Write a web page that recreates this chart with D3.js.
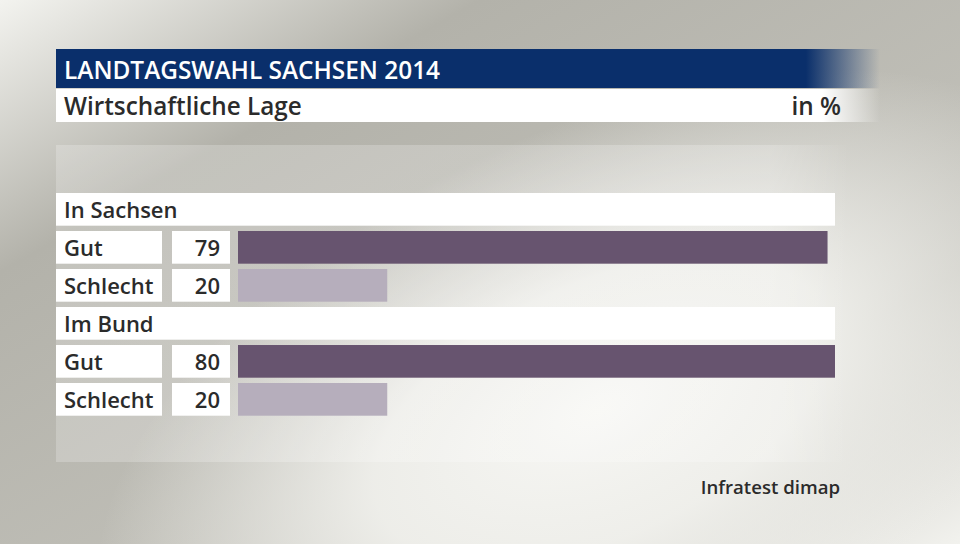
<!DOCTYPE html>
<html>
<head>
<meta charset="utf-8">
<script src="https://cdn.jsdelivr.net/npm/d3@7"></script>
<style>
  body { margin: 0; overflow: hidden; }
  text { font-family: "Open Sans", sans-serif; font-weight: 600; }
</style>
</head>
<body>
<script>
const width = 960;
const height = 544;

// data
const title = "LANDTAGSWAHL SACHSEN 2014";
const subtitle = "Wirtschaftliche Lage";
const unit = "in %";
const source = "Infratest dimap";
const groups = ["In Sachsen", "Im Bund"];
const categories = ["Gut", "Schlecht"];
const sachsenValues = [79, 20];
const bundValues = [80, 20];
const groupValues = [sachsenValues, bundValues];

const barColors = ["#67546f", "#b6aebc"];

// flatten into rows: header + one row per category
const rows = [];
groups.forEach((g, gi) => {
    rows.push({ type: "header", label: g, key: "h" + gi });
    categories.forEach((c, ci) => {
        rows.push({ type: "bar", label: c, value: groupValues[gi][ci], ci, key: gi + "-" + ci });
    });
});

const svg = d3.select("body")
    .append("svg")
    .attr("width", width)
    .attr("height", height);

const defs = svg.append("defs");

// background gradients
const bgLin = defs.append("linearGradient")
    .attr("id", "bgLin")
    .attr("x1", "0").attr("y1", "0").attr("x2", "1").attr("y2", "1");
bgLin.append("stop").attr("offset", "0").attr("stop-color", "#f3f3ef");
bgLin.append("stop").attr("offset", "0.25").attr("stop-color", "#b3b2aa");
bgLin.append("stop").attr("offset", "0.75").attr("stop-color", "#c4c3bc");
bgLin.append("stop").attr("offset", "1").attr("stop-color", "#f2f2ee");

const bgRad = defs.append("radialGradient")
    .attr("id", "bgRad")
    .attr("gradientUnits", "userSpaceOnUse")
    .attr("cx", 600).attr("cy", 410).attr("r", 400)
    .attr("gradientTransform", "translate(600,410) rotate(-25) scale(1.35,0.7) translate(-600,-410)");
bgRad.append("stop").attr("offset", "0").attr("stop-color", "#f7f7f4").attr("stop-opacity", 1);
bgRad.append("stop").attr("offset", "0.45").attr("stop-color", "#f2f2ee").attr("stop-opacity", 0.9);
bgRad.append("stop").attr("offset", "1").attr("stop-color", "#f2f2ee").attr("stop-opacity", 0);

const titleFade = defs.append("linearGradient")
    .attr("id", "titleFade")
    .attr("gradientUnits", "userSpaceOnUse")
    .attr("x1", 56).attr("x2", 880).attr("y1", 0).attr("y2", 0);
titleFade.append("stop").attr("offset", "0.91").attr("stop-color", "#0a2f6b").attr("stop-opacity", 1);
titleFade.append("stop").attr("offset", "1").attr("stop-color", "#0a2f6b").attr("stop-opacity", 0);

const subFade = defs.append("linearGradient")
    .attr("id", "subFade")
    .attr("gradientUnits", "userSpaceOnUse")
    .attr("x1", 56).attr("x2", 880).attr("y1", 0).attr("y2", 0);
subFade.append("stop").attr("offset", "0.93").attr("stop-color", "#ffffff").attr("stop-opacity", 1);
subFade.append("stop").attr("offset", "1").attr("stop-color", "#ffffff").attr("stop-opacity", 0);

const panelFade = defs.append("linearGradient")
    .attr("id", "panelFade")
    .attr("gradientUnits", "userSpaceOnUse")
    .attr("x1", 56).attr("x2", 850).attr("y1", 0).attr("y2", 0);
panelFade.append("stop").attr("offset", "0.9").attr("stop-color", "#ffffff").attr("stop-opacity", 0.22);
panelFade.append("stop").attr("offset", "1").attr("stop-color", "#ffffff").attr("stop-opacity", 0);

svg.append("rect").attr("width", width).attr("height", height).attr("fill", "url(#bgLin)");
svg.append("rect").attr("width", width).attr("height", height).attr("fill", "url(#bgRad)");

// title block
svg.append("rect")
    .attr("x", 56).attr("y", 49).attr("width", 824).attr("height", 39)
    .attr("fill", "url(#titleFade)");
svg.append("rect")
    .attr("x", 56).attr("y", 89).attr("width", 824).attr("height", 33)
    .attr("fill", "url(#subFade)");

svg.append("text")
    .attr("x", 64).attr("y", 79)
    .attr("fill", "#ffffff")
    .attr("font-size", 24.4)
    .text(title);
svg.append("text")
    .attr("x", 64).attr("y", 114.5)
    .attr("fill", "#2b2b2b")
    .attr("font-size", 24.3)
    .text(subtitle);
svg.append("text")
    .attr("x", 841).attr("y", 114.5)
    .attr("text-anchor", "end")
    .attr("fill", "#2b2b2b")
    .attr("font-size", 24.3)
    .text(unit);

// chart panel
svg.append("rect")
    .attr("x", 56).attr("y", 145).attr("width", 794).attr("height", 317)
    .attr("fill", "url(#panelFade)");

// scales
const y = d3.scaleBand()
    .domain(rows.map(d => d.key))
    .range([193, 415.7])
    .paddingInner(0.14)
    .paddingOuter(0);

const x = d3.scaleLinear()
    .domain([0, 80])
    .range([238, 835]);

const labelX = 56, labelW = 106;
const valX = 172, valW = 58;

const rowG = svg.selectAll("g.row")
    .data(rows)
    .join("g")
    .attr("class", "row")
    .attr("transform", d => `translate(0,${y(d.key)})`);

const bh = y.bandwidth();
const textDy = bh / 2 + 9;

// header rows
const headers = rowG.filter(d => d.type === "header");
headers.append("rect")
    .attr("x", 56).attr("width", 835 - 56).attr("height", bh)
    .attr("fill", "#ffffff");
headers.append("text")
    .attr("x", 64).attr("y", textDy)
    .attr("font-size", 22)
    .attr("fill", "#2b2b2b")
    .text(d => d.label);

// bar rows
const bars = rowG.filter(d => d.type === "bar");
bars.append("rect")
    .attr("x", labelX).attr("width", labelW).attr("height", bh)
    .attr("fill", "#ffffff");
bars.append("rect")
    .attr("x", valX).attr("width", valW).attr("height", bh)
    .attr("fill", "#ffffff");
bars.append("text")
    .attr("x", 64).attr("y", textDy)
    .attr("font-size", 22)
    .attr("fill", "#2b2b2b")
    .text(d => d.label);
bars.append("text")
    .attr("x", 220).attr("y", textDy)
    .attr("text-anchor", "end")
    .attr("font-size", 22)
    .attr("fill", "#2b2b2b")
    .text(d => d.value);
bars.append("rect")
    .attr("x", x(0))
    .attr("width", d => x(d.value) - x(0))
    .attr("height", bh)
    .attr("fill", d => barColors[d.ci]);

// source
svg.append("text")
    .attr("x", 840).attr("y", 494)
    .attr("text-anchor", "end")
    .attr("font-size", 18.6)
    .attr("fill", "#2b2b2b")
    .text(source);
</script>
</body>
</html>
